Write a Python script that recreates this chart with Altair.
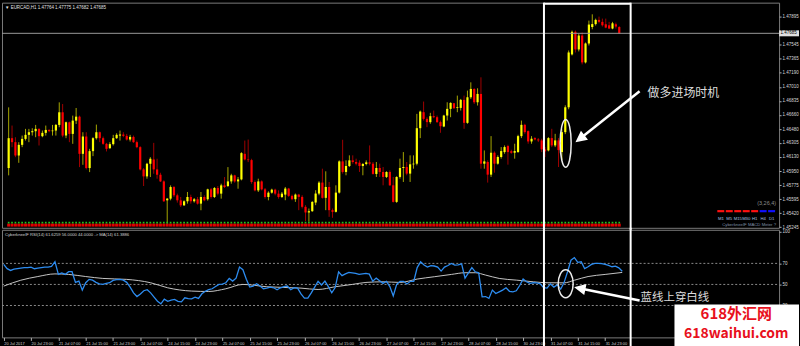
import altair as alt
import pandas as pd

# ---------------- data ----------------
opens = [
    1.45989, 1.46365, 1.46315, 1.46147, 1.46281, 1.46356, 1.46407, 1.46440, 1.46453, 1.46482,
    1.46390, 1.46432, 1.46469, 1.46453, 1.46461, 1.46532, 1.46691, 1.46398, 1.46565, 1.46419,
    1.46586, 1.46636, 1.46168, 1.46386, 1.45989, 1.46202, 1.46365, 1.46440, 1.46365, 1.46294,
    1.46239, 1.46290, 1.46365, 1.46398, 1.46411, 1.46394, 1.46348, 1.46381, 1.46315, 1.46252,
    1.45972, 1.45884, 1.46043, 1.46097, 1.45972, 1.45905, 1.45821, 1.45583, 1.45604, 1.45750,
    1.45646, 1.45583, 1.45520, 1.45571, 1.45625, 1.45571, 1.45596, 1.45541, 1.45625, 1.45596,
    1.45721, 1.45625, 1.45738, 1.45667, 1.45771, 1.45763, 1.45821, 1.45897, 1.45821, 1.45846,
    1.46168, 1.46097, 1.46089, 1.45813, 1.45708, 1.45821, 1.45721, 1.45625, 1.45679, 1.45717,
    1.45667, 1.45625, 1.45655, 1.45731, 1.45639, 1.45597, 1.45655, 1.45626, 1.45501, 1.45430,
    1.45446, 1.45555, 1.45668, 1.45806, 1.45614, 1.45751, 1.45459, 1.45438, 1.45680, 1.46073,
    1.45940, 1.46015, 1.46086, 1.46065, 1.46057, 1.46015, 1.46040, 1.46061, 1.46044, 1.45915,
    1.45990, 1.45940, 1.45877, 1.45940, 1.45772, 1.45563, 1.45877, 1.45990, 1.46002, 1.45919,
    1.46036, 1.46044, 1.46491, 1.46692, 1.46608, 1.46567, 1.46642, 1.46629, 1.46567, 1.46512,
    1.46650, 1.46734, 1.46805, 1.46746, 1.46746, 1.46847, 1.46558, 1.46880, 1.46985, 1.46817,
    1.46922, 1.46044, 1.46065, 1.45906, 1.46182, 1.46044, 1.46128, 1.46190, 1.46266, 1.46199,
    1.46182, 1.46190, 1.46391, 1.46533, 1.46454, 1.46324, 1.46366, 1.46349, 1.46337, 1.46224,
    1.46211, 1.46366, 1.46274, 1.46337, 1.46190, 1.46441, 1.46754, 1.47419, 1.47704, 1.47482,
    1.47657, 1.47319, 1.47557, 1.47764, 1.47801, 1.47854, 1.47829, 1.47799, 1.47786, 1.47745,
    1.47799, 1.47764,
]
highs = [
    1.46753, 1.46524, 1.46377, 1.46315, 1.46398, 1.46482, 1.46482, 1.46490, 1.46532, 1.46490,
    1.46461, 1.46524, 1.46478, 1.46532, 1.46544, 1.46816, 1.46795, 1.46574, 1.46574, 1.46649,
    1.46745, 1.46649, 1.46440, 1.46440, 1.46231, 1.46377, 1.46536, 1.46448, 1.46386, 1.46306,
    1.46315, 1.46407, 1.46427, 1.46461, 1.46440, 1.46419, 1.46407, 1.46398, 1.46335, 1.46264,
    1.45989, 1.46055, 1.46126, 1.46306, 1.46106, 1.45930, 1.45834, 1.45612, 1.45771, 1.45763,
    1.45667, 1.45625, 1.45583, 1.45688, 1.45654, 1.45612, 1.45625, 1.45688, 1.45646, 1.45729,
    1.45738, 1.45750, 1.45763, 1.45792, 1.45876, 1.46001, 1.45917, 1.45905, 1.45876, 1.46189,
    1.46335, 1.46348, 1.46106, 1.45834, 1.45855, 1.45834, 1.45738, 1.45696, 1.45729, 1.45729,
    1.45708, 1.45688, 1.45751, 1.45739, 1.45655, 1.45668, 1.45664, 1.45647, 1.45522, 1.45480,
    1.45572, 1.45710, 1.45823, 1.45981, 1.45948, 1.45814, 1.45480, 1.45772, 1.46086, 1.46345,
    1.46086, 1.46149, 1.46149, 1.46107, 1.46086, 1.46052, 1.46086, 1.46274, 1.46065, 1.46065,
    1.46044, 1.46002, 1.45948, 1.45960, 1.45877, 1.45885, 1.46107, 1.46190, 1.46065, 1.46149,
    1.46149, 1.46671, 1.46713, 1.46826, 1.46629, 1.46684, 1.46713, 1.46650, 1.46587, 1.46659,
    1.46817, 1.46817, 1.46809, 1.46901, 1.46859, 1.46901, 1.46964, 1.47068, 1.46993, 1.46993,
    1.47131, 1.46211, 1.46086, 1.46391, 1.46199, 1.46149, 1.46253, 1.46274, 1.46282, 1.46220,
    1.46295, 1.46408, 1.46587, 1.46546, 1.46462, 1.46391, 1.46378, 1.46366, 1.46358, 1.46253,
    1.46378, 1.46483, 1.46420, 1.46366, 1.46478, 1.46779, 1.47469, 1.47720, 1.47720, 1.47682,
    1.47695, 1.47569, 1.47845, 1.47924, 1.47870, 1.47895, 1.47870, 1.47870, 1.47829, 1.47829,
    1.47820, 1.47775,
]
lows = [
    1.45897, 1.46252, 1.46126, 1.46055, 1.46252, 1.46335, 1.46315, 1.46398, 1.46377, 1.46273,
    1.46377, 1.46398, 1.46440, 1.46398, 1.46398, 1.46503, 1.46377, 1.46365, 1.46315, 1.46294,
    1.46544, 1.46001, 1.46030, 1.45972, 1.45938, 1.46139, 1.46348, 1.46315, 1.46281, 1.46198,
    1.46231, 1.46273, 1.46356, 1.46335, 1.46377, 1.46335, 1.46323, 1.46306, 1.46239, 1.45959,
    1.45763, 1.45855, 1.45876, 1.45917, 1.45855, 1.45813, 1.45562, 1.45290, 1.45583, 1.45625,
    1.45554, 1.45499, 1.45512, 1.45541, 1.45541, 1.45554, 1.45529, 1.45458, 1.45571, 1.45579,
    1.45604, 1.45612, 1.45646, 1.45604, 1.45738, 1.45750, 1.45792, 1.45805, 1.45729, 1.45834,
    1.46085, 1.46064, 1.45792, 1.45696, 1.45688, 1.45708, 1.45604, 1.45583, 1.45667, 1.45646,
    1.45604, 1.45612, 1.45584, 1.45626, 1.45584, 1.45563, 1.45459, 1.45480, 1.45321, 1.45313,
    1.45438, 1.45522, 1.45647, 1.45605, 1.45459, 1.45375, 1.45363, 1.45430, 1.45668, 1.45919,
    1.45898, 1.46002, 1.46044, 1.46023, 1.45940, 1.45898, 1.46023, 1.46023, 1.45906, 1.45877,
    1.45877, 1.45772, 1.45864, 1.45764, 1.45555, 1.45551, 1.45856, 1.45814, 1.45898, 1.45814,
    1.45981, 1.46023, 1.46366, 1.46587, 1.46504, 1.46546, 1.46617, 1.46558, 1.46433, 1.46504,
    1.46587, 1.46629, 1.46734, 1.46692, 1.46713, 1.46483, 1.46546, 1.46859, 1.46796, 1.46776,
    1.45981, 1.45981, 1.45806, 1.45877, 1.45931, 1.46032, 1.46107, 1.46169, 1.46032, 1.46169,
    1.46107, 1.46182, 1.46366, 1.46420, 1.46295, 1.46295, 1.46337, 1.46316, 1.46190, 1.46128,
    1.46199, 1.46253, 1.46253, 1.46002, 1.46090, 1.46416, 1.46729, 1.47406, 1.47444, 1.47457,
    1.47294, 1.47306, 1.47532, 1.47736, 1.47783, 1.47811, 1.47770, 1.47749, 1.47741, 1.47736,
    1.47745, 1.47682,
]
closes = [
    1.46365, 1.46315, 1.46147, 1.46281, 1.46356, 1.46407, 1.46440, 1.46453, 1.46482, 1.46390,
    1.46432, 1.46469, 1.46453, 1.46461, 1.46532, 1.46691, 1.46398, 1.46565, 1.46419, 1.46586,
    1.46636, 1.46168, 1.46386, 1.45989, 1.46202, 1.46365, 1.46440, 1.46365, 1.46294, 1.46231,
    1.46290, 1.46365, 1.46407, 1.46411, 1.46394, 1.46348, 1.46381, 1.46315, 1.46252, 1.45972,
    1.45884, 1.46043, 1.46106, 1.45972, 1.45905, 1.45821, 1.45571, 1.45604, 1.45750, 1.45646,
    1.45583, 1.45520, 1.45571, 1.45625, 1.45571, 1.45596, 1.45541, 1.45625, 1.45583, 1.45721,
    1.45625, 1.45738, 1.45667, 1.45771, 1.45750, 1.45821, 1.45897, 1.45821, 1.45846, 1.46177,
    1.46097, 1.46089, 1.45813, 1.45708, 1.45821, 1.45721, 1.45625, 1.45679, 1.45717, 1.45667,
    1.45625, 1.45667, 1.45731, 1.45639, 1.45597, 1.45655, 1.45626, 1.45501, 1.45430, 1.45446,
    1.45563, 1.45668, 1.45806, 1.45614, 1.45751, 1.45459, 1.45438, 1.45680, 1.46073, 1.45940,
    1.46015, 1.46086, 1.46065, 1.46044, 1.46015, 1.46040, 1.46061, 1.46044, 1.45915, 1.45990,
    1.45940, 1.45877, 1.45940, 1.45772, 1.45563, 1.45877, 1.45990, 1.46002, 1.45919, 1.46036,
    1.46044, 1.46491, 1.46700, 1.46608, 1.46567, 1.46642, 1.46629, 1.46567, 1.46516, 1.46650,
    1.46734, 1.46809, 1.46742, 1.46755, 1.46847, 1.46558, 1.46880, 1.46985, 1.46817, 1.46922,
    1.46044, 1.46073, 1.45906, 1.46182, 1.46044, 1.46128, 1.46203, 1.46253, 1.46190, 1.46182,
    1.46203, 1.46391, 1.46533, 1.46441, 1.46324, 1.46358, 1.46349, 1.46337, 1.46224, 1.46199,
    1.46366, 1.46274, 1.46337, 1.46215, 1.46441, 1.46754, 1.47444, 1.47704, 1.47482, 1.47657,
    1.47319, 1.47557, 1.47795, 1.47801, 1.47854, 1.47829, 1.47786, 1.47757, 1.47745, 1.47811,
    1.47770, 1.47685,
]
rsi_values = [
    69.0, 65.0, 63.3, 64.5, 65.0, 65.5, 66.0, 66.0, 66.5, 64.9,
    65.5, 66.0, 66.5, 66.5, 67.1, 71.6, 59.5, 61.0, 59.5, 62.1,
    62.1, 52.0, 53.2, 44.6, 51.6, 54.8, 54.0, 52.0, 50.6, 50.0,
    51.0, 51.6, 53.8, 54.5, 54.8, 54.0, 52.0, 47.5, 42.0, 38.5,
    41.0, 44.0, 45.0, 42.0, 38.0, 34.0, 31.6, 36.0, 34.0, 35.0,
    35.7, 34.0, 33.5, 37.3, 36.5, 36.3, 37.9, 36.7, 41.1, 43.5,
    45.0, 45.9, 48.0, 50.0, 50.3, 51.6, 55.7, 53.2, 56.0, 66.5,
    64.0, 55.0, 47.5, 48.4, 50.6, 48.5, 45.9, 46.5, 47.5, 46.8,
    45.0, 46.8, 48.0, 48.5, 45.0, 47.0, 46.5, 41.0, 37.0, 37.0,
    42.0, 47.5, 53.0, 49.5, 53.2, 48.0, 42.1, 47.0, 62.0, 58.3,
    60.0, 61.4, 61.0, 60.5, 59.5, 60.0, 60.5, 59.8, 53.0, 56.0,
    53.5, 51.0, 53.0, 48.0, 39.0, 50.0, 53.0, 53.0, 50.5, 53.0,
    53.0, 66.0, 71.5, 68.4, 66.5, 67.8, 67.5, 66.5, 62.7, 66.5,
    68.0, 70.0, 68.4, 68.5, 69.5, 56.0, 61.0, 65.9, 62.0, 61.0,
    38.2, 38.5, 36.7, 44.6, 41.4, 43.0, 44.6, 46.8, 43.5, 43.0,
    44.0, 49.0, 55.1, 52.5, 51.0, 51.6, 51.5, 50.5, 47.0, 46.5,
    50.5, 47.5, 49.5, 45.5, 52.0, 62.0, 73.0, 75.5, 71.0, 71.5,
    65.0, 66.8, 69.0, 70.0, 70.0, 69.7, 69.0, 68.0, 66.8, 67.4,
    65.8, 62.6,
]
ma_index = [0, 5, 10, 15, 19, 24, 29, 36, 43, 48, 55, 60, 65, 70, 77, 87, 92, 97, 102, 106,
            111, 116, 121, 126, 131, 135, 138, 141, 145, 150, 155, 159, 164, 167, 171, 176, 181]
ma_values = [48.4, 54.0, 57.5, 60.0, 59.5, 57.5, 55.7, 54.8, 51.6, 46.8, 43.7, 43.3, 45.9, 50.0,
             47.8, 46.5, 45.2, 47.8, 50.0, 51.9, 52.5, 51.9, 55.1, 57.3, 59.5, 61.1, 61.1, 58.9,
             55.7, 54.1, 52.5, 51.6, 51.5, 54.0, 57.5, 59.5, 61.4]
price_ticks = [1.47895, 1.47545, 1.47365, 1.47190, 1.47010, 1.46835, 1.46660, 1.46480,
               1.46305, 1.46130, 1.45950, 1.45775, 1.45595, 1.45420, 1.45245]
rsi_ticks = [30, 50, 70, 100]
rsi_levels = [30, 50, 70]
time_index = [0, 8, 16, 24, 32, 40, 48, 56, 64, 72, 80, 88, 96, 104, 112, 120, 128, 136,
              144, 152, 160, 168, 176]
time_labels = ["20 Jul 2017", "20 Jul 23:00", "21 Jul 07:00", "21 Jul 15:00", "21 Jul 23:00",
               "24 Jul 07:00", "24 Jul 15:00", "24 Jul 23:00", "25 Jul 07:00", "25 Jul 15:00",
               "25 Jul 23:00", "26 Jul 07:00", "26 Jul 15:00", "26 Jul 23:00", "27 Jul 07:00",
               "27 Jul 15:00", "27 Jul 23:00", "28 Jul 07:00", "28 Jul 15:00", "30 Jul 23:00",
               "31 Jul 07:00", "31 Jul 15:00", "31 Jul 23:00"]
meter_frames = ["M1", "M5", "M15", "M30", "H1", "H4", "D1"]
meter_signal = ["down", "down", "down", "down", "down", "up", "up"]
last_price = 1.47685
title_text = "\u25bc EURCAD,H1  1.47764 1.47775 1.47682 1.47685"
rsi_title = "CyberkneeIF RSI(14) 61.6259 56.0000 44.0000 -> MA(14) 61.3886"
meter_title = "CyberkneeIF MACD Meter ?"
meter_params = "(3,26,4)"
note_top = "做多进场时机"
note_bottom = "蓝线上穿白线"
mark_line1 = "618外汇网"
mark_line2 = "618waihui.com"

# ---------------- layout / style ----------------
PLOT_W = 780
TOP_H = 226
BOT_H = 108
TINY = "Liberation Sans"
CJK = "Noto Sans CJK SC"

n = len(closes)
candles = pd.DataFrame({"i": list(range(n)), "open": opens, "high": highs,
                        "low": lows, "close": closes})
rsi_df = pd.DataFrame({"i": list(range(n)), "rsi": rsi_values})
ma_df = pd.DataFrame({"i": ma_index, "ma": ma_values})
lvl_df = pd.DataFrame({"level": rsi_levels})
one = pd.DataFrame({"k": [0]})

xs = alt.Scale(domain=[-0.5, 226.9], nice=False, zero=False)
ys_price = alt.Scale(domain=[1.45237, 1.48071], nice=False, zero=False)
ys_rsi = alt.Scale(domain=[-0.3, 101.9], nice=False, zero=False)

up_cond = "datum.close >= datum.open"

price_axis = alt.Axis(orient="right", values=price_ticks, format=".5f", labelFontSize=4.5,
                      labelFont=TINY, labelColor="#d8d8d8", tickColor="#b0b0b0", tickSize=2,
                      labelPadding=1, domain=False, grid=False, title=None)
rsi_axis = alt.Axis(orient="right", values=rsi_ticks, format="d", labelFontSize=4.5,
                    labelFont=TINY, labelColor="#d8d8d8", tickColor="#b0b0b0", tickSize=2,
                    labelPadding=1, domain=False, grid=False, title=None)
labels_js = "[" + ",".join("'" + s + "'" for s in time_labels) + "]"
idx_js = "[" + ",".join(str(v) for v in time_index) + "]"
time_axis = alt.Axis(values=time_index, labelExpr=f"{labels_js}[indexof({idx_js}, datum.value)]",
                     labelAlign="left", labelBaseline="top", labelFontSize=4,
                     labelFont=TINY, labelColor="#d0d0d0", tickColor="#b0b0b0", tickSize=3,
                     labelPadding=1, labelOverlap=False, labelFlush=False, domain=False,
                     grid=False, title=None)


def txt(text, x, y, **kw):
    return alt.Chart(one).mark_text(**kw).encode(x=alt.value(x), y=alt.value(y),
                                                  text=alt.value(text))


def seg(x1, y1, x2, y2, **kw):
    return alt.Chart(one).mark_rule(**kw).encode(x=alt.value(x1), y=alt.value(y1),
                                                  x2=alt.value(x2), y2=alt.value(y2))


def ellipse_path(a):
    k = 0.5523
    ka = round(k * a, 4)
    return (f"M0,-1C{ka},-1 {a},-{k} {a},0C{a},{k} {ka},1 0,1"
            f"C-{ka},1 -{a},{k} -{a},0C-{a},-{k} -{ka},-1 0,-1Z")


def shape_at(shape, x, y, size, angle=0, filled=True, color="white", sw=1.5):
    return alt.Chart(one).mark_point(shape=shape, size=size, angle=angle, filled=filled,
                                     color=color, stroke=color, strokeWidth=sw,
                                     opacity=1).encode(x=alt.value(x), y=alt.value(y))


HEAD = "M0,-1L0.75,0.5L-0.75,0.5Z"

# ---------------- top (price) panel ----------------
wicks = alt.Chart(candles).mark_rule(strokeWidth=1).encode(
    x=alt.X("i:Q", scale=xs, axis=None),
    y=alt.Y("low:Q", scale=ys_price, axis=price_axis),
    y2="high:Q",
    color=alt.condition(up_cond, alt.value("#a6a600"), alt.value("#a00000")),
)
bodies = alt.Chart(candles).mark_bar(size=2.2).encode(
    x=alt.X("i:Q", scale=xs, axis=None),
    y=alt.Y("open:Q", scale=ys_price, axis=price_axis),
    y2="close:Q",
    color=alt.condition(up_cond, alt.value("#ffff00"), alt.value("#ff0000")),
)
strip_red = alt.Chart(candles).mark_square(size=9, color="#e00000", opacity=1).encode(
    x=alt.X("i:Q", scale=xs, axis=None), y=alt.value(223.3))
strip_green = alt.Chart(candles).mark_square(size=3, color="#20c020", opacity=1).encode(
    x=alt.X("i:Q", scale=xs, axis=None), y=alt.value(220.8))

price_line = alt.Chart(one).mark_rule(color="#9a9a9a", strokeWidth=1).encode(
    y=alt.Y(datum=last_price, type="quantitative", scale=ys_price, axis=price_axis),
    x=alt.value(0), x2=alt.value(PLOT_W))
price_box = alt.Chart(one).mark_point(shape="M-1,-0.3L1,-0.3L1,0.3L-1,0.3Z", size=400,
                                      filled=True, color="#e0e0e0", opacity=1).encode(
    x=alt.value(790),
    y=alt.Y(datum=last_price, type="quantitative", scale=ys_price, axis=price_axis))
price_box_txt = alt.Chart(one).mark_text(align="left", fontSize=4.5, font=TINY,
                                         color="black").encode(
    x=alt.value(781.5),
    y=alt.Y(datum=last_price, type="quantitative", scale=ys_price, axis=price_axis),
    text=alt.value(f"{last_price:.5f}"))

top_layers = [wicks, bodies, strip_red, strip_green, price_line, price_box, price_box_txt,
              txt(title_text, 3, 2, align="left", baseline="top", fontSize=4.5, font=TINY,
                  color="#e0e0e0"),
              txt(meter_params, 777, 201, align="right", fontSize=5.5, font=TINY,
                  color="#8c8c8c"),
              txt(meter_title, 777, 223.5, align="right", fontSize=4.3, font=TINY,
                  color="#7f8fa6")]
for k, (frame, sig) in enumerate(zip(meter_frames, meter_signal)):
    cx = 721.5 + 8.5 * k
    col = "#ff1010" if sig == "down" else "#1010ff"
    top_layers.append(seg(cx - 3.5, 209.3, cx + 3.5, 209.3, color=col, strokeWidth=2.2))
    top_layers.append(txt(frame, cx, 217.5, align="center", fontSize=4.2, font=TINY,
                          color="#a9c1e0"))

# highlight box + annotation
top_layers += [
    seg(544, 1, 631, 1, color="white", strokeWidth=2),
    seg(544, 0, 544, 228, color="white", strokeWidth=2),
    seg(631, 0, 631, 228, color="white", strokeWidth=2),
    shape_at(ellipse_path(0.23), 565.8, 141.2, 2304, filled=False, color="#ececec", sw=1.5),
    seg(640, 89, 581.7, 135.3, color="white", strokeWidth=2.5),
    shape_at(HEAD, 581.7, 135.3, 144, angle=232),
    txt(note_top, 648, 91, align="left", fontSize=12, font=CJK, color="#dcdcdc"),
]
top = alt.layer(*top_layers).properties(width=PLOT_W, height=TOP_H)

# ---------------- bottom (RSI) panel ----------------
levels = alt.Chart(lvl_df).mark_rule(color="#8a8a8a", strokeWidth=1, strokeDash=[2, 2]).encode(
    y=alt.Y("level:Q", scale=ys_rsi, axis=rsi_axis), x=alt.value(0), x2=alt.value(PLOT_W))
ma_line = alt.Chart(ma_df).mark_line(color="#c4c4c4", strokeWidth=1,
                                     interpolate="monotone").encode(
    x=alt.X("i:Q", scale=xs, axis=time_axis), y=alt.Y("ma:Q", scale=ys_rsi, axis=rsi_axis))
rsi_line = alt.Chart(rsi_df).mark_line(color="#2d8cf0", strokeWidth=1.3).encode(
    x=alt.X("i:Q", scale=xs, axis=time_axis),
    y=alt.Y("rsi:Q", scale=ys_rsi, axis=rsi_axis))

bot_layers = [
    levels, ma_line, rsi_line,
    txt(rsi_title, 3, 3.5, align="left", baseline="top", fontSize=4.2, font=TINY,
        color="#d0d0d0"),
    seg(544, -2, 544, 118, color="white", strokeWidth=2),
    seg(631, -2, 631, 118, color="white", strokeWidth=2),
    shape_at(ellipse_path(0.536), 565.8, 54.2, 784, filled=False, color="#ececec", sw=1.5),
    seg(640, 71, 581.9, 59.2, color="white", strokeWidth=2.5),
    shape_at(HEAD, 581.9, 59.2, 144, angle=281.5),
    txt(note_bottom, 641, 68, align="left", fontSize=11.5, font=CJK, color="#dcdcdc"),
    # watermark box
    alt.Chart(one).mark_rect(color="white", opacity=1).encode(
        x=alt.value(675), x2=alt.value(800), y=alt.value(75), y2=alt.value(118)),
    txt(mark_line1, 737, 84.5, align="center", fontSize=15, font=CJK, fontWeight="bold",
        color="#e8101c"),
    txt(mark_line2, 737, 105, align="center", fontSize=14, font=CJK, fontWeight="bold",
        color="#e8101c"),
]
bottom = alt.layer(*bot_layers).properties(width=PLOT_W, height=BOT_H)

chart = (
    alt.vconcat(top, bottom, spacing=2, bounds="flush")
    .resolve_scale(x="independent", y="independent")
    .properties(padding={"left": 0, "right": 0, "top": 0, "bottom": 0})
    .configure(background="black")
    .configure_view(stroke="#7a7a7a", strokeWidth=1)
)

chart.save("out.html", embed_options={"renderer": "svg", "actions": False})
